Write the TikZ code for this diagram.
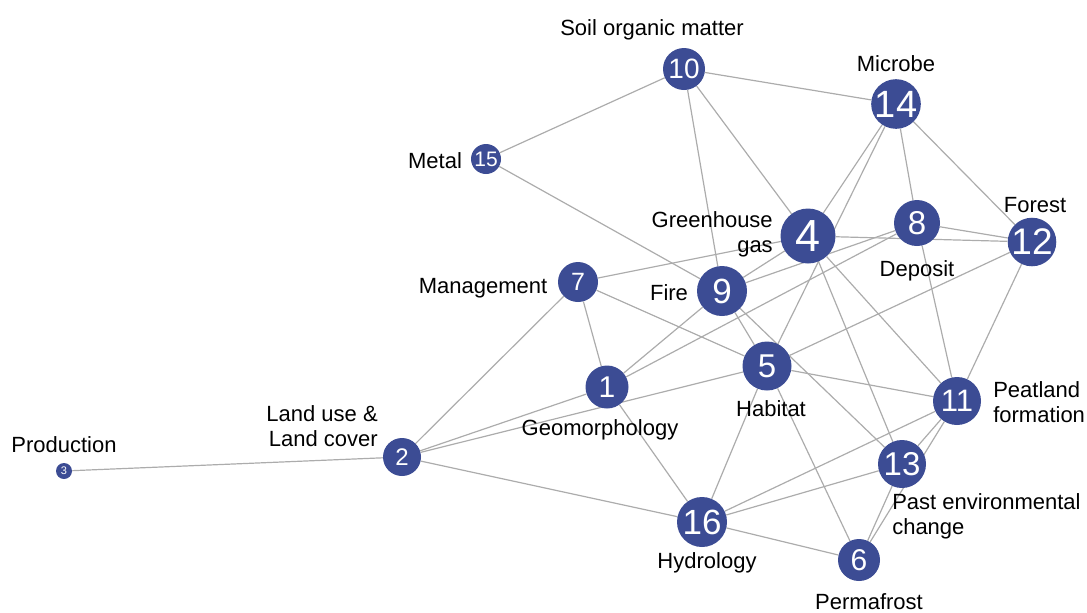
\documentclass[tikz,border=0pt]{standalone}
\usepackage{fontspec}
\setmainfont{Liberation Sans}
\usepackage{tikz}
\usetikzlibrary{backgrounds}
\definecolor{topicblue}{RGB}{60,76,148}
\definecolor{linkgray}{RGB}{172,172,172}
\tikzset{
  topic/.style={circle,fill=topicblue,text=white,inner sep=0pt},
  tlabel/.style={font=\fontsize{16.5}{19}\selectfont,inner sep=0pt},
  link/.style={draw=linkgray,line width=0.9pt}
}

\begin{document}
\begin{tikzpicture}[x=0.75pt,y=-0.75pt]
\useasboundingbox (0,0) rectangle (1087,612);
% topics: number/x/y/diameter/font size, all in px
\foreach \n/\x/\y/\d/\f in {1/607/387/43/30,2/402/457/38/24,3/64/471/16/11,4/808/236/55/45,
  5/767/366/49/33,6/859/560/42/30,7/578/282/40/25,8/917/223/46/33,9/722/291/50/35,
  10/684/69/42/28,11/957/401/48/31,12/1032/242/48/37,13/902/464/48/33,14/896/104/48/38,
  15/486/159/30/21,16/702/522/50/35}{
  \pgfmathsetmacro\ds{\d*0.75}
  \pgfmathsetmacro\fs{\f*0.75}
  \node[topic,minimum size=\ds pt,font=\fontsize{\fs pt}{\fs pt}\selectfont] (t\n) at (\x,\y) {\n};
}
% co-occurrence links
\begin{scope}[on background layer]
  \foreach \a/\b in {10/15,10/14,10/9,10/4,15/9,14/4,14/5,14/8,14/12,
    4/9,4/13,4/11,4/12,4/7,8/9,8/1,8/12,8/11,12/5,12/11,
    7/2,7/1,7/5,9/1,9/5,9/13,5/2,5/11,5/16,5/6,1/2,1/16,
    2/3,2/16,16/11,16/13,16/6,11/13,11/6,13/6}{\draw[link] (t\a) -- (t\b);}
\end{scope}
% labels
\node[tlabel,anchor=base] (l10) at (652,35) {Soil organic matter};
\node[tlabel,anchor=base] (l14) at (896,71) {Microbe};
\node[tlabel,anchor=base] (l15) at (435,168) {Metal};
\node[tlabel,anchor=base] (l12) at (1035,212) {Forest};
\node[tlabel,anchor=base] (l8) at (917,276) {Deposit};
\node[tlabel,anchor=base] (l7) at (483,293) {Management};
\node[tlabel,anchor=base] (l9) at (669,300) {Fire};
\node[tlabel,anchor=base] (l1) at (600,435) {Geomorphology};
\node[tlabel,anchor=base] (l5) at (771,416) {Habitat};
\node[tlabel,anchor=base] (l3) at (64,452) {Production};
\node[tlabel,anchor=base] (l16) at (707,568) {Hydrology};
\node[tlabel,anchor=base] (l6) at (869,609) {Permafrost};
\node[tlabel,anchor=east,align=right] (l4) at (773,234) {Greenhouse\\gas};
\node[tlabel,anchor=west,align=left] (l11) at (993,402) {Peatland\\formation};
\node[tlabel,anchor=east,align=right] (l2) at (378,426) {Land use \&\\Land cover};
\node[tlabel,anchor=west,align=left] (l13) at (892,516) {Past environmental\\change};
\end{tikzpicture}
\end{document}
